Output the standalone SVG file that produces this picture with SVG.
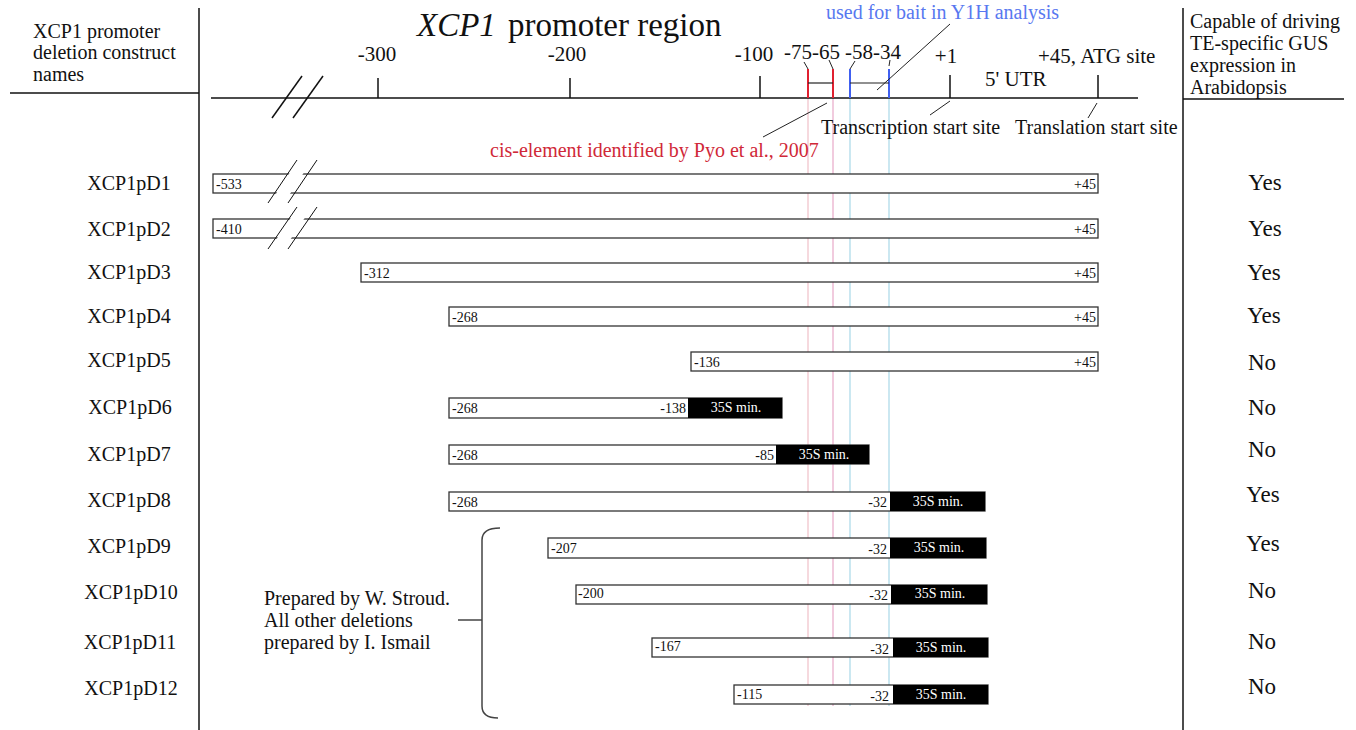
<svg xmlns="http://www.w3.org/2000/svg" width="1356" height="730" viewBox="0 0 1356 730">
<style>
text{font-family:"Liberation Serif","Times New Roman",serif;fill:#111}
.hd{font-size:20px}
.tk{font-size:21px}
.nm{font-size:20px;text-anchor:middle}
.yn{font-size:23px;text-anchor:middle}
.bl{font-size:14px}
.br{font-size:14px;text-anchor:end}
.bw{font-size:14px;fill:#fff;text-anchor:middle}
.bar{fill:#fff;stroke:#333;stroke-width:1.3}
.blk{fill:#000}
.ln{stroke:#111;stroke-width:1.5;fill:none}
.thin{stroke:#222;stroke-width:1;fill:none}
</style>
<rect width="1356" height="730" fill="#fff"/>
<g id="frame">
<line class="ln" x1="199" y1="8" x2="199" y2="730"/>
<line class="ln" x1="1183" y1="8" x2="1183" y2="730"/>
<line class="ln" x1="10" y1="93" x2="199" y2="93"/>
<line class="ln" x1="1183" y1="99" x2="1344" y2="99"/>
</g>
<g id="header-left">
<text class="hd" x="33" y="38">XCP1 promoter</text>
<text class="hd" x="33" y="59">deletion construct</text>
<text class="hd" x="33" y="81">names</text>
</g>
<g id="header-right">
<text class="hd" x="1190" y="28">Capable of driving</text>
<text class="hd" x="1190" y="50">TE-specific GUS</text>
<text class="hd" x="1190" y="72">expression in</text>
<text class="hd" x="1190" y="94">Arabidopsis</text>
</g>
<g id="guides">
<line x1="808" y1="98" x2="808" y2="706" stroke="#f0c0c8" stroke-width="1.2"/>
<line x1="833" y1="98" x2="833" y2="706" stroke="#e8a8c8" stroke-width="1.2"/>
<line x1="850" y1="98" x2="850" y2="706" stroke="#a8d8e8" stroke-width="1.2"/>
<line x1="889" y1="98" x2="889" y2="706" stroke="#a8d8e8" stroke-width="1.2"/>
</g>
<g id="axis">
<text x="417" y="36" style="font-size:33px;font-style:italic">XCP1</text>
<text x="508" y="36" style="font-size:33px">promoter region</text>
<line class="ln" x1="211" y1="98" x2="1138" y2="98" stroke-width="2"/>
<line x1="272" y1="118" x2="302" y2="76" stroke="#111" stroke-width="1.5"/>
<line x1="293" y1="118" x2="323" y2="76" stroke="#111" stroke-width="1.5"/>
<line class="ln" x1="378" y1="78" x2="378" y2="98"/>
<line class="ln" x1="570" y1="78" x2="570" y2="98"/>
<line class="ln" x1="760" y1="76" x2="760" y2="98"/>
<line class="ln" x1="950" y1="75" x2="950" y2="98"/>
<line class="ln" x1="1098" y1="75" x2="1098" y2="98"/>
<line x1="808" y1="69" x2="808" y2="98" stroke="#e02030" stroke-width="2"/>
<line x1="833" y1="69" x2="833" y2="98" stroke="#e02030" stroke-width="2"/>
<line x1="808" y1="83" x2="833" y2="83" stroke="#222" stroke-width="1.2"/>
<line x1="850" y1="69" x2="850" y2="98" stroke="#4060f0" stroke-width="2"/>
<line x1="889" y1="69" x2="889" y2="98" stroke="#4060f0" stroke-width="2"/>
<line x1="850" y1="83" x2="889" y2="83" stroke="#222" stroke-width="1.2"/>
<line class="thin" x1="804" y1="62" x2="808" y2="69"/>
<line class="thin" x1="829" y1="60" x2="833" y2="69"/>
<line class="thin" x1="855" y1="61" x2="850" y2="69"/>
<line class="thin" x1="890" y1="60" x2="889" y2="66"/>
<text class="tk" x="377" y="61" text-anchor="middle">-300</text>
<text class="tk" x="567" y="61" text-anchor="middle">-200</text>
<text class="tk" x="754" y="61" text-anchor="middle">-100</text>
<text class="tk" x="784" y="59">-75-65</text>
<text class="tk" x="845" y="59">-58-34</text>
<text class="tk" x="946" y="63" text-anchor="middle">+1</text>
<text class="tk" x="1038" y="63">+45, ATG site</text>
<text class="tk" x="985" y="86">5' UTR</text>
<text x="826" y="19" style="font-size:20px;fill:#5878f0">used for bait in Y1H analysis</text>
<line class="thin" x1="877" y1="90" x2="950" y2="24"/>
<text x="490" y="157" style="font-size:20px;fill:#d02838">cis-element identified by Pyo et al., 2007</text>
<line class="thin" x1="827" y1="103" x2="763" y2="137"/>
<text x="821" y="134" style="font-size:20px">Transcription start site</text>
<line class="thin" x1="950" y1="101" x2="930" y2="115"/>
<text x="1015" y="134" style="font-size:20px">Translation start site</text>
<line class="thin" x1="1097" y1="103" x2="1088" y2="118"/>
</g>
<g id="D1">
<text class="nm" x="129" y="190">XCP1pD1</text>
<rect class="bar" x="213" y="174" width="885" height="19"/>
<polygon points="272,200 298,160 312,160 286,200" fill="#fff"/>
<line x1="268" y1="203" x2="297" y2="160" stroke="#111"/>
<line x1="288" y1="203" x2="317" y2="160" stroke="#111"/>
<text class="bl" x="216" y="189">-533</text>
<text class="br" x="1096" y="189">+45</text>
<text class="yn" x="1265" y="190">Yes</text>
</g>
<g id="D2">
<text class="nm" x="129" y="236">XCP1pD2</text>
<rect class="bar" x="213" y="219" width="885" height="19"/>
<polygon points="272,246 298,207 312,207 286,246" fill="#fff"/>
<line x1="268" y1="249" x2="297" y2="207" stroke="#111"/>
<line x1="288" y1="249" x2="317" y2="207" stroke="#111"/>
<text class="bl" x="216" y="234">-410</text>
<text class="br" x="1096" y="234">+45</text>
<text class="yn" x="1265" y="236">Yes</text>
</g>
<g id="D3">
<text class="nm" x="129" y="279">XCP1pD3</text>
<rect class="bar" x="361" y="263" width="737" height="19"/>
<text class="bl" x="364" y="278">-312</text>
<text class="br" x="1096" y="278">+45</text>
<text class="yn" x="1264" y="280">Yes</text>
</g>
<g id="D4">
<text class="nm" x="129" y="323">XCP1pD4</text>
<rect class="bar" x="449" y="307" width="649" height="19"/>
<text class="bl" x="452" y="322">-268</text>
<text class="br" x="1096" y="322">+45</text>
<text class="yn" x="1264" y="323">Yes</text>
</g>
<g id="D5">
<text class="nm" x="129" y="367">XCP1pD5</text>
<rect class="bar" x="691" y="352" width="407" height="19"/>
<text class="bl" x="694" y="367">-136</text>
<text class="br" x="1096" y="367">+45</text>
<text class="yn" x="1262" y="370">No</text>
</g>
<g id="D6">
<text class="nm" x="130" y="414">XCP1pD6</text>
<rect class="bar" x="449" y="398" width="333" height="20"/>
<rect class="blk" x="688" y="398" width="94" height="20"/>
<text class="bl" x="452" y="413">-268</text>
<text class="br" x="686" y="413">-138</text>
<text class="bw" x="736" y="412">35S min.</text>
<text class="yn" x="1262" y="415">No</text>
</g>
<g id="D7">
<text class="nm" x="129" y="461">XCP1pD7</text>
<rect class="bar" x="449" y="445" width="420" height="19"/>
<rect class="blk" x="776" y="445" width="93" height="19"/>
<text class="bl" x="452" y="460">-268</text>
<text class="br" x="774" y="460">-85</text>
<text class="bw" x="824" y="459">35S min.</text>
<text class="yn" x="1262" y="457">No</text>
</g>
<g id="D8">
<text class="nm" x="129" y="507">XCP1pD8</text>
<rect class="bar" x="449" y="492" width="536" height="19"/>
<rect class="blk" x="890" y="492" width="95" height="19"/>
<text class="bl" x="452" y="507">-268</text>
<text class="br" x="887" y="507">-32</text>
<text class="bw" x="938" y="506">35S min.</text>
<text class="yn" x="1263" y="502">Yes</text>
</g>
<g id="D9">
<text class="nm" x="129" y="553">XCP1pD9</text>
<rect class="bar" x="548" y="538" width="438" height="20"/>
<rect class="blk" x="890" y="538" width="96" height="20"/>
<text class="bl" x="551" y="553">-207</text>
<text class="br" x="887" y="554">-32</text>
<text class="bw" x="939" y="552">35S min.</text>
<text class="yn" x="1263" y="551">Yes</text>
</g>
<g id="D10">
<text class="nm" x="131" y="599">XCP1pD10</text>
<rect class="bar" x="576" y="585" width="411" height="19"/>
<rect class="blk" x="891" y="585" width="96" height="19"/>
<text class="bl" x="578" y="598">-200</text>
<text class="br" x="888" y="600">-32</text>
<text class="bw" x="940" y="598">35S min.</text>
<text class="yn" x="1262" y="598">No</text>
</g>
<g id="D11">
<text class="nm" x="130" y="649">XCP1pD11</text>
<rect class="bar" x="652" y="638" width="336" height="19"/>
<rect class="blk" x="893" y="638" width="95" height="19"/>
<text class="bl" x="655" y="651">-167</text>
<text class="br" x="889" y="654">-32</text>
<text class="bw" x="941" y="652">35S min.</text>
<text class="yn" x="1262" y="649">No</text>
</g>
<g id="D12">
<text class="nm" x="131" y="695">XCP1pD12</text>
<rect class="bar" x="734" y="685" width="254" height="19"/>
<rect class="blk" x="893" y="685" width="95" height="19"/>
<text class="bl" x="737" y="699">-115</text>
<text class="br" x="889" y="701">-32</text>
<text class="bw" x="941" y="699">35S min.</text>
<text class="yn" x="1262" y="694">No</text>
</g>
<g id="note">
<path d="M500,528 Q482,528 482,540 L482,706 Q482,718 498,718" fill="none" stroke="#444" stroke-width="1.5"/>
<line x1="458" y1="620" x2="482" y2="620" stroke="#444" stroke-width="1.5"/>
<text class="hd" x="264" y="605">Prepared by W. Stroud.</text>
<text class="hd" x="264" y="627">All other deletions</text>
<text class="hd" x="264" y="649">prepared by I. Ismail</text>
</g>
</svg>
